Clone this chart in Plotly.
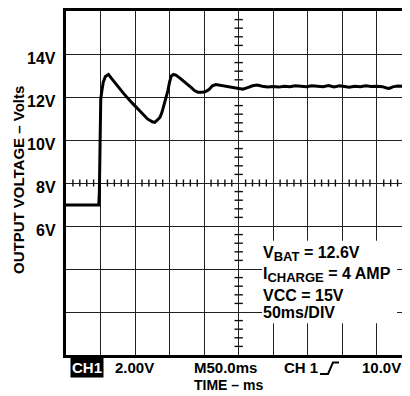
import plotly.graph_objects as go

# ---- data ----
time_ms = [0, 20, 40, 47.5, 48.3, 48.8, 49.3, 50.3, 52, 54, 57, 61.5, 65, 72, 83, 95, 107,
           118, 125, 128.5, 132, 136, 139, 142, 145, 147.5, 150, 152.5, 155.5, 159, 164,
           170, 176, 181, 186, 191, 197, 202, 207, 212, 217, 224, 232, 241, 249, 256, 263,
           270, 277, 284, 292, 300, 308, 316, 324, 332, 340, 348, 356, 364, 372, 380, 388,
           396, 402, 410, 418, 426, 434, 442, 450, 458, 464, 468, 473, 480, 488, 498]
volts = [6.98, 6.98, 6.98, 6.98, 7.6, 9.5, 11.2, 11.9, 12.3, 12.7, 12.95, 13.05, 12.9, 12.6,
         12.18, 11.75, 11.35, 10.98, 10.85, 10.82, 10.92, 11.05, 11.3, 11.65, 11.95, 12.3,
         12.7, 12.98, 13.05, 13.02, 12.9, 12.75, 12.6, 12.45, 12.3, 12.22, 12.22, 12.25,
         12.35, 12.52, 12.58, 12.54, 12.5, 12.45, 12.38, 12.36, 12.44, 12.52, 12.56, 12.5,
         12.47, 12.49, 12.46, 12.5, 12.48, 12.52, 12.5, 12.48, 12.52, 12.5, 12.48, 12.53,
         12.47, 12.52, 12.5, 12.45, 12.5, 12.48, 12.52, 12.49, 12.5, 12.48, 12.42, 12.4,
         12.47, 12.51, 12.5, 12.52]

y_tick_vals = [14, 12, 10, 8, 6]
y_tick_text = ["14V", "12V", "10V", "8V", "6V"]
info_lines = ["V<sub><span style='font-size:13px'>BAT</span></sub> = 12.6V",
              "I<sub><span style='font-size:13px'>CHARGE</span></sub> = 4 AMP",
              "VCC = 15V", "50ms/DIV"]
info_y = [4.72, 3.70, 2.77, 1.99]
bottom_labels = ["2.00V", "M50.0ms", "CH 1", "10.0V"]
bottom_x_px = [134, 225.5, 301, 381]

X_MAX = 498
Y_MAX = 16
FONT = "Liberation Sans, Arial, sans-serif"
OFF = 8  # default page body margin
W, H = 410 - OFF, 396 - OFF
L, T, B = 66 - OFF, 9 - OFF, 41
PW = W - L
PH = H - T - B


def px_to_paper_x(px):
    return (px - OFF - L) / PW


def py_to_paper_y(py):
    return (H - B - (py - OFF)) / PH


fig = go.Figure()

# center crosshair minor ticks
h_ticks = [v for v in range(0, 500, 10) if v % 50 != 0]
v_ticks = [round(v * 0.4, 2) for v in range(0, 41) if v % 5 != 0]
fig.add_trace(go.Scatter(x=h_ticks, y=[8] * len(h_ticks), mode="markers",
                         marker=dict(symbol="line-ns", size=5, line=dict(color="#111", width=1.4)),
                         hoverinfo="skip", showlegend=False))
fig.add_trace(go.Scatter(x=[250] * len(v_ticks), y=v_ticks, mode="markers",
                         marker=dict(symbol="line-ew", size=6, line=dict(color="#111", width=1.4)),
                         hoverinfo="skip", showlegend=False))

fig.add_trace(go.Scatter(x=time_ms, y=volts, mode="lines",
                         line=dict(color="black", width=3), showlegend=False,
                         hoverinfo="skip"))

fig.update_xaxes(range=[0, X_MAX], dtick=50, tick0=0, showgrid=True, gridcolor="#222",
                 gridwidth=1.4, showticklabels=False, ticks="", zeroline=False,
                 showline=True, linecolor="black", linewidth=2.5, mirror=True)
fig.update_yaxes(range=[0, Y_MAX], dtick=2, tick0=0, showgrid=True, gridcolor="#222",
                 gridwidth=1.4, showticklabels=False, ticks="", zeroline=False,
                 showline=True, linecolor="black", linewidth=2.5, mirror=False)

shapes = []
# white box behind info text
shapes.append(dict(type="rect", xref="paper", yref="paper",
                   x0=px_to_paper_x(262), x1=px_to_paper_x(397),
                   y0=py_to_paper_y(323), y1=py_to_paper_y(240),
                   fillcolor="white", line=dict(width=0), layer="above"))
# trigger glyph
gx = [320, 328, 333, 339]
gy = [374, 374, 362.5, 362.5]
path = "M {} {} L {} {} L {} {} L {} {}".format(
    *[v for p in zip([px_to_paper_x(a) for a in gx], [py_to_paper_y(b) for b in gy]) for v in p])
shapes.append(dict(type="path", xref="paper", yref="paper", path=path,
                   line=dict(color="black", width=2)))
fig.update_layout(shapes=shapes)

ann = []
for v, t in zip(y_tick_vals, y_tick_text):
    ann.append(dict(x=0, xref="paper", y=v, yref="y", text=t, showarrow=False,
                    xanchor="right", yanchor="top", xshift=-8, yshift=6,
                    font=dict(family=FONT, size=16, color="black", weight="bold")))
for t, yv in zip(info_lines, info_y):
    ann.append(dict(x=px_to_paper_x(261), xref="paper", y=yv, yref="y", text=t,
                    showarrow=False, xanchor="left", yanchor="middle",
                    font=dict(family=FONT, size=16, color="black", weight="bold")))
ann.append(dict(x=px_to_paper_x(86.5), xref="paper", y=py_to_paper_y(368), yref="paper",
                text="CH1", showarrow=False, xanchor="center", yanchor="middle",
                bgcolor="black", borderpad=1,
                font=dict(family=FONT, size=15, color="white", weight="bold")))
for t, xp in zip(bottom_labels, bottom_x_px):
    ann.append(dict(x=px_to_paper_x(xp), xref="paper", y=py_to_paper_y(367.5), yref="paper",
                    text=t, showarrow=False, xanchor="center", yanchor="middle",
                    font=dict(family=FONT, size=15, color="black", weight="bold")))
ann.append(dict(x=px_to_paper_x(228), xref="paper", y=py_to_paper_y(385), yref="paper",
                text="TIME – ms", showarrow=False, xanchor="center", yanchor="middle",
                font=dict(family=FONT, size=14, color="black", weight="bold")))
ann.append(dict(x=px_to_paper_x(18), xref="paper", y=py_to_paper_y(179), yref="paper",
                text="OUTPUT VOLTAGE – Volts", showarrow=False, textangle=-90,
                xanchor="center", yanchor="middle",
                font=dict(family=FONT, size=15, color="black", weight="bold")))

fig.update_layout(width=W, height=H, margin=dict(l=L, r=0, t=T, b=B),
                  paper_bgcolor="white", plot_bgcolor="white", annotations=ann)

fig.write_html("out.html")
